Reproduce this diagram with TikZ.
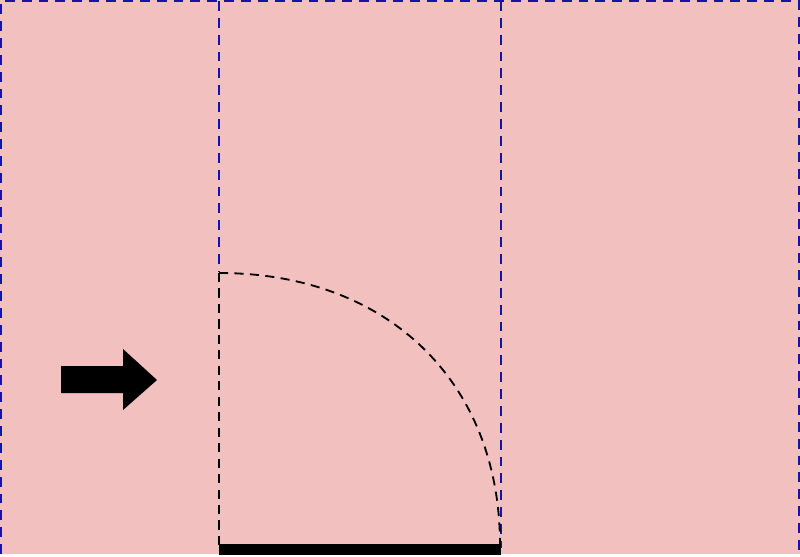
\documentclass[tikz,border=0pt]{standalone}
\usepackage{tikz}
\definecolor{doorpink}{RGB}{242,192,191}
\definecolor{walblue}{RGB}{20,20,170}
\begin{document}
\begin{tikzpicture}[x=0.025cm,y=-0.025cm,
    gridline/.style={draw=walblue,line width=1.3pt,dash pattern=on 7pt off 5pt},
    swing/.style={draw=black,line width=1.3pt,dash pattern=on 6.5pt off 4.5pt}]
    \useasboundingbox (0,0) rectangle (800,557);

    % The background
    \fill[doorpink] (0,0) rectangle (800,554);

    % The blue dashed frame and columns
    \draw[gridline] (1,554) -- (1,1) -- (799,1) -- (799,554);
    \draw[gridline] (219,1) -- (219,272);
    \draw[gridline] (501,1) -- (501,548);

    % The door and its swing
    \draw[swing] (219,273) -- (219,548);
    \draw[swing] (219,273) .. controls (388,273) and (500,382) .. (500,545);
    \draw[line width=8pt] (219,549.5) -- (501,549.5);

    % The arrow
    \fill[black] (61,366) -- (123,366) -- (123,349) -- (157,380)
        -- (123,410) -- (123,393) -- (61,393) -- cycle;
\end{tikzpicture}
\end{document}
